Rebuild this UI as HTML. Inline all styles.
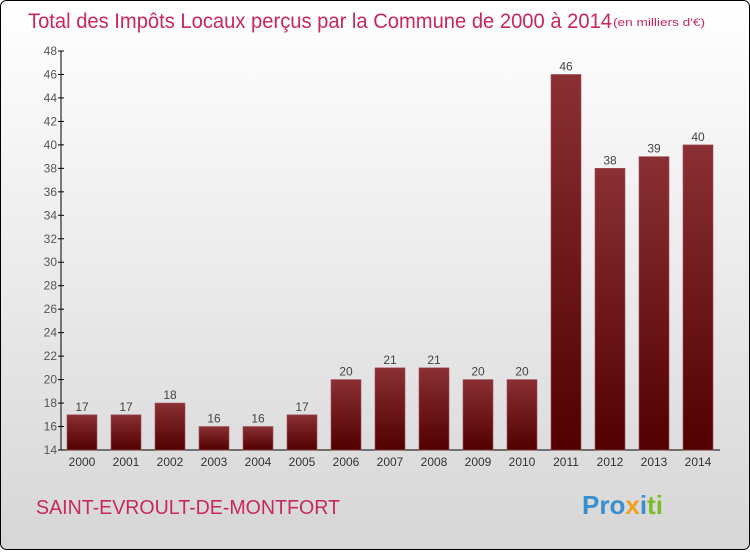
<!DOCTYPE html>
<html><head><meta charset="utf-8"><style>
body{margin:0;width:750px;height:550px;overflow:hidden;font-family:"Liberation Sans",sans-serif}
</style></head><body>
<svg width="750" height="550" xmlns="http://www.w3.org/2000/svg">
<defs>
<linearGradient id="bg" x1="0" y1="0" x2="0" y2="1"><stop offset="0" stop-color="#ffffff"/><stop offset="1" stop-color="#d6d6d6"/></linearGradient>
<linearGradient id="bar" x1="0" y1="0" x2="0" y2="1"><stop offset="0" stop-color="#8a3034"/><stop offset="1" stop-color="#520000"/></linearGradient>
</defs>
<rect x="0.5" y="0.5" width="749" height="549" rx="6" fill="url(#bg)" stroke="#000"/>
<text x="28" y="28" font-size="21" fill="#c8285a" textLength="584" lengthAdjust="spacingAndGlyphs">Total des Impôts Locaux perçus par la Commune de 2000 à 2014</text>
<text x="613" y="26" font-size="11" fill="#c8285a" textLength="92" lengthAdjust="spacingAndGlyphs">(en milliers d'€)</text>
<g id="axes"></g>
<g id="bars"></g>
<text x="36" y="514" font-size="20" fill="#c8285a" textLength="304" lengthAdjust="spacingAndGlyphs">SAINT-EVROULT-DE-MONTFORT</text>
<text x="582" y="514" font-size="26" font-weight="bold"><tspan fill="#3a8fd0">Pro</tspan><tspan fill="#f0a020">x</tspan><tspan fill="#3a8fd0">i</tspan><tspan fill="#7cbb2a">ti</tspan></text>
</svg>
<script>
const categories=["2000","2001","2002","2003","2004","2005","2006","2007","2008","2009","2010","2011","2012","2013","2014"];
const values=[17,17,18,16,16,17,20,21,21,20,20,46,38,39,40];
const yTicks=[14,16,18,20,22,24,26,28,30,32,34,36,38,40,42,44,46,48];
const NS="http://www.w3.org/2000/svg";
const y0=450,y1=51,vmin=14,vmax=48;
function y(v){return y0-(v-vmin)/(vmax-vmin)*(y0-y1);}
function x(i){return 82+i*44;}
const ax=document.getElementById('axes'),bg=document.getElementById('bars');
function mk(tag,attrs,parent,txt){const e=document.createElementNS(NS,tag);for(const k in attrs)e.setAttribute(k,attrs[k]);if(txt!==undefined)e.textContent=txt;parent.appendChild(e);return e;}
const yl=mk('line',{x1:61,x2:61,y1:y1,y2:y0,stroke:'#000'},ax);


const xl=mk('line',{x1:61,x2:720,y1:y0,y2:y0,stroke:'#000'},ax);


yTicks.forEach(t=>{
 mk('line',{x1:58,x2:64,y1:y(t),y2:y(t),stroke:'#000'},ax);
 const tx=mk('text',{x:57,y:y(t)+4,'font-size':12,'text-anchor':'end',fill:'#555'},ax,t);
 
 
});
categories.forEach((c,i)=>{
 const v=values[i];
 const r=mk('rect',{x:x(i)-15,y:y(v),width:30,height:y0-y(v),fill:'url(#bar)',stroke:'#a05058','stroke-width':0.6},bg);
 
 
 const lv=mk('text',{x:x(i),y:y(v)-4,'font-size':12,'text-anchor':'middle',fill:'#444'},bg,v);
 
 
 const lc=mk('text',{x:x(i),y:466,'font-size':12,'text-anchor':'middle',fill:'#333'},bg,c);
 
 
});
</script>
</body></html>
